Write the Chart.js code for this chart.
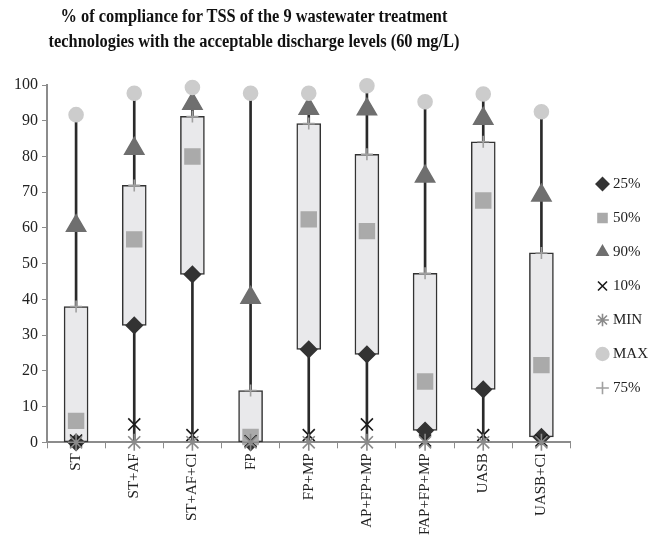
<!DOCTYPE html>
<html>
<head>
<meta charset="utf-8">
<script src="https://cdn.jsdelivr.net/npm/chart.js@4.4.0/dist/chart.umd.min.js"></script>
<style>
  html, body { margin: 0; padding: 0; background: #fff; }
  #wrap { position: relative; width: 651px; height: 543px; }
  #title {
    position: absolute; left: 0; top: 4px; width: 508px;
    text-align: center; font: bold 18px/25px 'Liberation Serif', 'Times New Roman', serif;
    color: #111; transform: scaleX(0.91); transform-origin: 254px 0;
  }
</style>
</head>
<body>
<div id="wrap">
  <canvas id="tssChart" width="651" height="543"></canvas>
  <div id="title">% of compliance for TSS of the 9 wastewater treatment<br>technologies with the acceptable discharge levels (60 mg/L)</div>
</div>
<script>
// technologies on the x axis
const categories = ['ST', 'ST+AF', 'ST+AF+Cl', 'FP', 'FP+MP', 'AP+FP+MP', 'FAP+FP+MP', 'UASB', 'UASB+Cl'];

// percentiles of % compliance
const p25 = [0, 32.7, 47, 0, 26, 24.6, 3.3, 14.8, 1.5];
const p50 = [6, 56.8, 80, 1.5, 62.4, 59.1, 17, 67.7, 21.6];
const p90 = [60.6, 82.2, 94.8, 40.5, 93.4, 93.2, 74.4, 90.6, 69.1];
const p10 = [0.5, 5, 2, 0.3, 2, 5, 0.5, 2, 0.5];
const pMin = [0, 0, 0, 0, 0, 0, 0, 0, 0];
const pMax = [91.7, 97.7, 99.3, 97.7, 97.7, 99.8, 95.3, 97.5, 92.5];
const p75 = [38, 71.9, 91.2, 14.5, 89.2, 80.6, 47.3, 84.1, 53];

const yTicks = [0, 10, 20, 30, 40, 50, 60, 70, 80, 90, 100];
const legendOrder = ['25%', '50%', '90%', '10%', 'MIN', 'MAX', '75%'];

const serif = "'Liberation Serif', 'Times New Roman', serif";

function marker(label, data, style, color, radius, order) {
    return {
        type: 'line',
        label: label,
        data: data,
        showLine: false,
        clip: false,
        pointStyle: style,
        pointRadius: radius,
        pointHoverRadius: radius,
        backgroundColor: color,
        borderColor: color,
        pointBorderWidth: 1.6,
        borderWidth: 1.6,
        order: order
    };
}

new Chart(document.getElementById('tssChart'), {
    type: 'bar',
    data: {
        labels: categories,
        datasets: [
            // lower order is painted later (on top), like the excel series order
            marker('25%', p25, 'rectRot', '#333333', 8, 8),
            marker('50%', p50, 'rect', '#aaaaaa', 10.5, 7),
            marker('90%', p90, 'triangle', '#6f6f6f', 11, 6),
            marker('10%', p10, 'crossRot', '#1a1a1a', 8.5, 5),
            marker('MIN', pMin, 'star', '#8a8a8a', 8.5, 4),
            marker('MAX', pMax, 'circle', '#cccccc', 7, 3),
            marker('75%', p75, 'cross', '#a0a0a0', 6, 2),
            {
                label: 'box',
                data: categories.map((c, i) => [p25[i], p75[i]]),
                backgroundColor: '#e9e9eb',
                borderColor: '#333333',
                borderWidth: 1.5,
                borderSkipped: false,
                barThickness: 24,
                grouped: false,
                clip: false,
                order: 9
            },
            {
                label: 'whisker',
                data: categories.map((c, i) => [pMin[i], pMax[i]]),
                backgroundColor: '#2a2a2a',
                borderWidth: 0,
                barThickness: 2,
                grouped: false,
                order: 10
            }
        ]
    },
    options: {
        responsive: false,
        animation: false,
        layout: { padding: { left: 10, right: -7, top: 0, bottom: 3 } },
        plugins: {
            // blank title box only reserves the space above the plot (real title is the html one)
            title: {
                display: true,
                text: ' ',
                fullSize: false,
                font: { size: 10, lineHeight: 1 },
                padding: { top: 75, bottom: 0 }
            },
            legend: {
                position: 'right',
                title: { display: true, text: ' ', font: { size: 10, lineHeight: 1 }, padding: { top: 22, bottom: 0 } },
                labels: {
                    usePointStyle: true,
                    boxWidth: 6,
                    boxHeight: 9,
                    padding: 19,
                    color: '#222222',
                    font: { family: serif, size: 15 },
                    filter: item => item.text !== 'box' && item.text !== 'whisker',
                    sort: (a, b) => legendOrder.indexOf(a.text) - legendOrder.indexOf(b.text)
                }
            },
            tooltip: { enabled: false }
        },
        scales: {
            x: {
                offset: true,
                grid: {
                    display: true,
                    offset: true,
                    drawOnChartArea: false,
                    tickLength: 6,
                    color: '#8c8c8c'
                },
                border: { color: '#8c8c8c', width: 2 },
                ticks: {
                    minRotation: 90,
                    maxRotation: 90,
                    padding: 5,
                    color: '#222222',
                    font: { family: serif, size: 15 }
                }
            },
            y: {
                min: 0,
                max: 100,
                afterBuildTicks: axis => { axis.ticks = yTicks.map(v => ({ value: v })); },
                grid: {
                    display: true,
                    drawOnChartArea: false,
                    tickLength: 5,
                    color: '#8c8c8c'
                },
                border: { color: '#8c8c8c', width: 2 },
                ticks: {
                    color: '#222222',
                    padding: 4,
                    font: { family: serif, size: 16 }
                }
            },
            // empty strip between the plot and the legend
            gap: {
                position: 'right',
                display: true,
                grid: { display: false },
                border: { display: false },
                ticks: { display: false },
                afterFit: scale => { scale.width = 10; }
            }
        }
    }
});
</script>
</body>
</html>
